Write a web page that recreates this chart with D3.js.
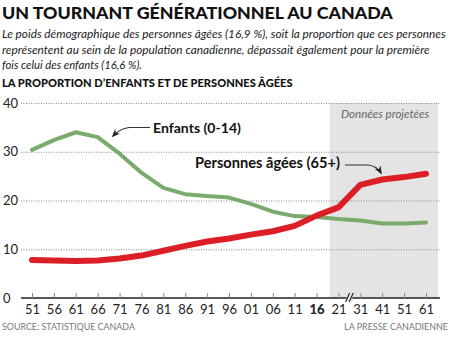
<!DOCTYPE html>
<html>
<head>
<meta charset="utf-8">
<script src="https://cdn.jsdelivr.net/npm/d3@7"></script>
<style>
  html, body { margin: 0; padding: 0; background: #fff; }
  svg { display: block; font-family: Lato, "Open Sans", sans-serif; }
</style>
</head>
<body>
<svg id="chart" width="450" height="343"></svg>
<script>
// Years shown on the x axis (two-digit labels)
const years = ["51","56","61","66","71","76","81","86","91","96","01","06","11","16","21","31","41","51p","61p"];
const yearLabels = ["51","56","61","66","71","76","81","86","91","96","01","06","11","16","21","31","41","51","61"];
// Share of the population aged 0-14 (%)
const enfants = [30.4, 32.4, 34.0, 33.0, 29.6, 25.7, 22.6, 21.3, 20.9, 20.6, 19.3, 17.7, 16.8, 16.6, 16.2, 15.9, 15.3, 15.3, 15.5];
// Share of the population aged 65 and over (%)
const aines = [7.8, 7.7, 7.6, 7.7, 8.1, 8.7, 9.7, 10.7, 11.6, 12.2, 13.0, 13.7, 14.8, 16.9, 18.6, 23.2, 24.3, 24.8, 25.5];
const yTicks = [0, 10, 20, 30, 40];
const projectedFrom = "21";

const svg = d3.select("#chart");

const x = d3.scalePoint().domain(years).range([32, 426]);
const y = d3.scaleLinear().domain([0, 40]).range([298, 103]);
const step = x.step();

// Size a text to a target width: shrink the font if it is too wide,
// widen the letter spacing if it is too narrow.
function fit(sel, w) {
  const node = sel.node();
  const len = node.getComputedTextLength();
  if (len > w) {
    const fs = parseFloat(sel.attr("font-size"));
    sel.attr("font-size", (fs * w / len).toFixed(2));
  } else if (len < w) {
    sel.attr("textLength", w).attr("lengthAdjust", "spacing");
  }
}

// Title block
svg.append("text").attr("x", 2).attr("y", 19)
  .attr("font-size", 21).attr("font-weight", 900).attr("fill", "#111")
  .text("UN TOURNANT GÉNÉRATIONNEL AU CANADA").call(fit, 391);

const sub = [
  ["Le poids démographique des personnes âgées (16,9 %), soit la proportion que ces personnes", 444],
  ["représentent au sein de la population canadienne, dépassait également pour la première", 428],
  ["fois celui des enfants (16,6 %).", 140]
];
sub.forEach((d, i) => {
  svg.append("text").attr("x", 2).attr("y", 38 + i * 15.5)
    .attr("font-size", 12.5).attr("font-style", "italic").attr("fill", "#222")
    .text(d[0]).call(fit, d[1]);
});

svg.append("text").attr("x", 2).attr("y", 87)
  .attr("font-size", 12).attr("font-weight", 900).attr("fill", "#111")
  .text("LA PROPORTION D’ENFANTS ET DE PERSONNES ÂGÉES").call(fit, 291);

// Projected-data band
const bandX0 = x(projectedFrom) - step * 0.4;
svg.append("rect")
  .attr("x", bandX0).attr("y", y(40))
  .attr("width", 438 - bandX0).attr("height", y(0) - y(40))
  .attr("fill", "#e4e4e4");
svg.append("text").attr("x", 385).attr("y", 118)
  .attr("text-anchor", "middle").attr("font-size", 11.5).attr("font-style", "italic")
  .attr("fill", "#666").text("Données projetées").call(fit, 88);

// Y grid and labels
const yAxis = svg.append("g").attr("transform", "translate(21,0)")
  .call(d3.axisLeft(y).tickValues(yTicks).tickSize(-419).tickPadding(0));
yAxis.select(".domain").remove();
yAxis.selectAll(".tick line")
  .attr("stroke", "#888").attr("stroke-width", 1).attr("stroke-dasharray", "1,1.5")
  .filter(d => d === 0).remove();
yAxis.selectAll(".tick text")
  .attr("x", -18).attr("text-anchor", "start").attr("font-size", 13)
  .attr("font-family", "Lato, sans-serif").attr("fill", "#222");

// Lines
const line = d3.line().x((d, i) => x(years[i])).y(d => y(d)).curve(d3.curveLinear);
svg.append("path").datum(enfants).attr("d", line)
  .attr("fill", "none").attr("stroke", "#7aab6c").attr("stroke-width", 4)
  .attr("stroke-linejoin", "round").attr("stroke-linecap", "round");
svg.append("path").datum(aines).attr("d", line)
  .attr("fill", "none").attr("stroke", "#dc1f26").attr("stroke-width", 6)
  .attr("stroke-linejoin", "round").attr("stroke-linecap", "round");

// X axis
const xAxis = svg.append("g").attr("transform", `translate(0,${y(0)})`)
  .call(d3.axisBottom(x).tickSize(-5).tickPadding(7)
    .tickFormat((d, i) => yearLabels[i]));
xAxis.select(".domain").attr("d", "M21,0H440").attr("stroke", "#222").attr("stroke-width", 1.5);
xAxis.selectAll(".tick line").attr("stroke", "#888").attr("stroke-width", 1);
xAxis.selectAll(".tick text")
  .attr("font-size", 13).attr("font-family", "Lato, sans-serif").attr("fill", "#222")
  .attr("font-weight", d => d === "16" ? 900 : 400);

// Axis break between 21 and 31
const bx = (x("21") + x("31")) / 2;
svg.append("rect").attr("x", bx - 3).attr("y", y(0) - 3).attr("width", 6).attr("height", 6).attr("fill", "#e4e4e4");
[-1.8, 1.8].forEach(o => {
  svg.append("line")
    .attr("x1", bx + o - 2).attr("y1", y(0) + 4)
    .attr("x2", bx + o + 2).attr("y2", y(0) - 5)
    .attr("stroke", "#222").attr("stroke-width", 1.1);
});

// Series labels with arrows
svg.append("defs").append("marker")
  .attr("id", "arrow").attr("viewBox", "0 0 10 10")
  .attr("refX", 8).attr("refY", 5).attr("markerWidth", 7).attr("markerHeight", 7)
  .attr("orient", "auto")
  .append("path").attr("d", "M0,1 L10,5 L0,9 L3,5 Z").attr("fill", "#222");

svg.append("text").attr("x", 153).attr("y", 133)
  .attr("font-size", 15).attr("font-weight", 700).attr("fill", "#111")
  .text("Enfants (0-14)").call(fit, 88);
svg.append("path").attr("d", "M150,127.5 L129,127.5 Q120,128.5 113,136")
  .attr("fill", "none").attr("stroke", "#333").attr("stroke-width", 1.2)
  .attr("marker-end", "url(#arrow)");

svg.append("text").attr("x", 195).attr("y", 168)
  .attr("font-size", 15).attr("font-weight", 700).attr("fill", "#111")
  .text("Personnes âgées (65+)").call(fit, 145);
svg.append("path").attr("d", "M345,165 L368,165 Q377,166 381,173")
  .attr("fill", "none").attr("stroke", "#333").attr("stroke-width", 1.2)
  .attr("marker-end", "url(#arrow)");

// Footer
svg.append("text").attr("x", 2).attr("y", 330)
  .attr("font-size", 10.5).attr("fill", "#777")
  .text("SOURCE: STATISTIQUE CANADA").call(fit, 133);
svg.append("text").attr("x", 448).attr("y", 330).attr("text-anchor", "end")
  .attr("font-size", 10.5).attr("fill", "#777")
  .text("LA PRESSE CANADIENNE").call(fit, 104);
</script>
</body>
</html>
